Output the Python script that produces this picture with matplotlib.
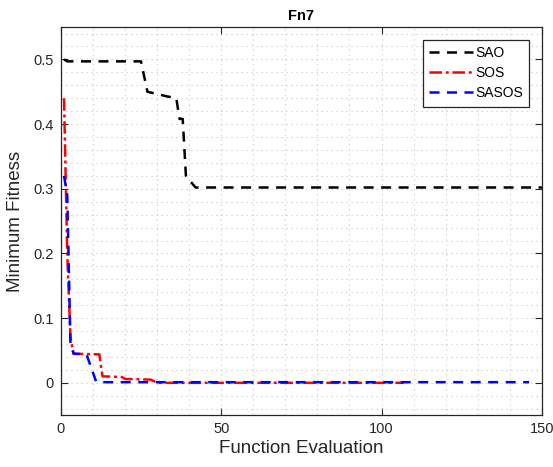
import numpy as np
import matplotlib.pyplot as plt
from matplotlib.ticker import MultipleLocator

plt.rcParams['font.family'] = ['Liberation Sans', 'DejaVu Sans']

# SAO - black dashed
sao_x = [1, 2, 25, 27, 33, 36, 37, 38, 39, 42, 150]
sao_y = [0.5, 0.497, 0.497, 0.45, 0.443, 0.44, 0.408, 0.408, 0.32, 0.302, 0.302]

# SOS - red dash-dot
sos_x = [1, 2, 3, 4, 12, 13, 19, 20, 28, 30, 107]
sos_y = [0.44, 0.2, 0.07, 0.045, 0.044, 0.01, 0.009, 0.006, 0.005, 0.0, 0.0]

# SASOS - blue dashed
sasos_x = [1, 2, 3, 4, 8, 9, 11, 12, 146]
sasos_y = [0.32, 0.29, 0.06, 0.045, 0.044, 0.03, 0.002, 0.001, 0.001]

fig = plt.figure(figsize=(5.53, 4.67), dpi=100)
ax = fig.add_axes([0.110, 0.111, 0.870, 0.831])

ax.plot(sao_x, sao_y, color='black', linestyle=(0, (4, 3)), linewidth=1.8, label='SAO')
ax.plot(sos_x, sos_y, color='red', linestyle=(0, (5, 1.5, 1.2, 1.5)), linewidth=1.8, label='SOS')
ax.plot(sasos_x, sasos_y, color='blue', linestyle=(0, (4, 3)), linewidth=1.8, label='SASOS')

ax.set_xlim(0, 150)
ax.set_ylim(-0.05, 0.55)
ax.xaxis.set_major_locator(MultipleLocator(50))
ax.xaxis.set_minor_locator(MultipleLocator(10))
ax.yaxis.set_minor_locator(MultipleLocator(0.02))
ax.set_yticks([0, 0.1, 0.2, 0.3, 0.4, 0.5])
ax.set_yticklabels(['0', '0.1', '0.2', '0.3', '0.4', '0.5'])

ax.grid(which='both', linestyle=(0, (1, 3.5)), color='#c4c4c4', linewidth=0.8)
ax.tick_params(which='major', direction='in', top=True, right=True, length=5,
               labelsize=10.5, labelcolor='#262626', color='#262626', pad=5)
ax.tick_params(which='minor', length=0)
for s in ax.spines.values():
    s.set_linewidth(0.9)
    s.set_color('#262626')

ax.set_title('Fn7', fontsize=10.5, fontweight='bold', pad=5)
ax.set_xlabel('Function Evaluation', fontsize=13.5, color='#262626', labelpad=3)
ax.set_ylabel('Minimum Fitness', fontsize=13.5, color='#262626', labelpad=7)

leg = ax.legend(loc='upper right', fontsize=10, fancybox=False, framealpha=1,
                edgecolor='#262626', handlelength=3.2, handletextpad=0.15,
                labelspacing=0.45, borderpad=0.45,
                bbox_to_anchor=(1, 1), borderaxespad=0.9)
leg.get_frame().set_linewidth(0.9)

fig.savefig('out.png', dpi=100)
